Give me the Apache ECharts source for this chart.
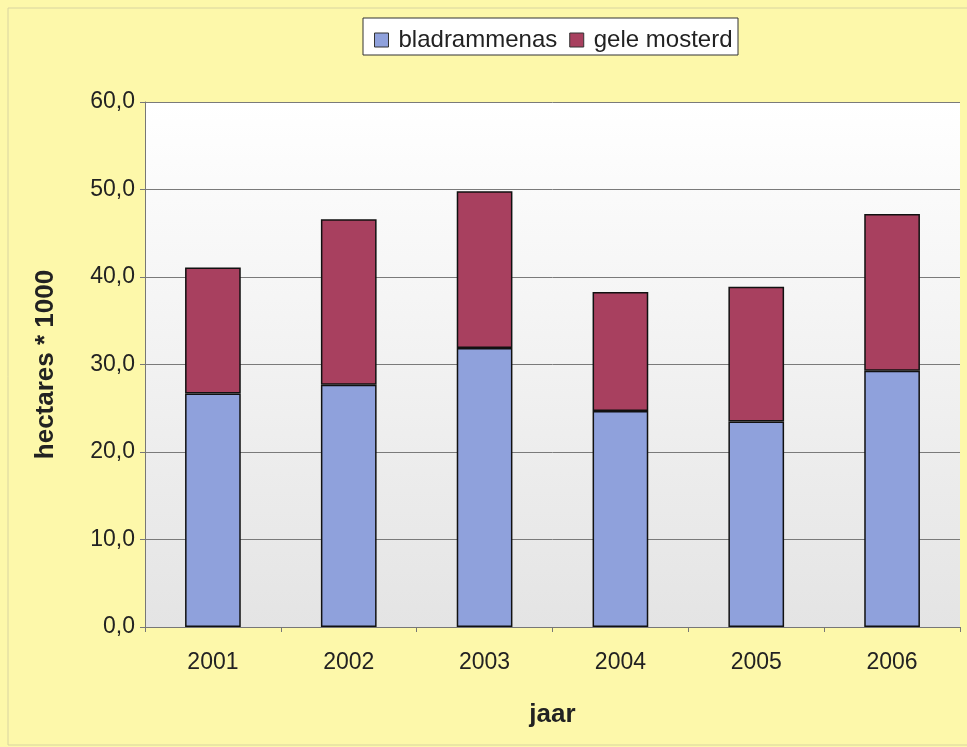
<!DOCTYPE html>
<html>
<head>
<meta charset="utf-8">
<script src="https://cdn.jsdelivr.net/npm/echarts@6/dist/echarts.min.js"></script>
<style>
  html, body { margin: 0; padding: 0; background: #FDF8AA; }
  #chart { width: 967px; height: 747px; }
</style>
</head>
<body>
<div id="chart"></div>
<script>
// Cover crop area (x 1000 ha) per year
const years = ['2001', '2002', '2003', '2004', '2005', '2006'];
const bladrammenas = [26.7, 27.7, 31.9, 24.7, 23.5, 29.3];
const geleMosterd = [14.4, 18.9, 17.9, 13.6, 15.4, 17.9];
const seriesNames = ['bladrammenas', 'gele mosterd'];

const chart = echarts.init(document.getElementById('chart'), null, { renderer: 'canvas' });

const fontFamily = '"Liberation Sans", Arial, sans-serif';
const fmt = v => v.toFixed(1).replace('.', ',');

chart.setOption({
  backgroundColor: '#FDF8AA',
  animation: false,
  textStyle: { fontFamily: fontFamily },
  graphic: [
    {
      type: 'rect',
      shape: { x: 8, y: 8, width: 968, height: 737 },
      style: { fill: 'none', stroke: '#d8d4a0', lineWidth: 1 },
      z: -1
    },
    {
      type: 'rect',
      shape: { x: 363, y: 18, width: 375, height: 37 },
      style: { fill: '#ffffff', stroke: '#333333', lineWidth: 1 },
      z: 0
    }
  ],
  legend: {
    top: 23,
    left: 369,
    itemWidth: 14,
    itemHeight: 14,
    itemGap: 12,
    textStyle: { fontSize: 24, color: '#222', fontFamily: fontFamily, padding: [0, 0, 0, 5] },
    icon: 'rect',
    itemStyle: { borderColor: '#333', borderWidth: 1 },
    data: seriesNames,
    z: 5
  },
  grid: {
    left: 145,
    right: 7,
    top: 102,
    bottom: 120,
    show: true,
    borderWidth: 0,
    backgroundColor: {
      type: 'linear', x: 0, y: 0, x2: 0, y2: 1,
      colorStops: [
        { offset: 0, color: '#ffffff' },
        { offset: 1, color: '#e4e4e4' }
      ]
    }
  },
  xAxis: {
    type: 'category',
    data: years,
    name: 'jaar',
    nameLocation: 'middle',
    nameGap: 75,
    nameTextStyle: { fontSize: 26, fontWeight: 'bold', color: '#222', fontFamily: fontFamily },
    axisLine: { lineStyle: { color: '#777', width: 1 } },
    axisTick: { show: true, length: 5, lineStyle: { color: '#777' } },
    axisLabel: { fontSize: 23, color: '#222', margin: 24, fontFamily: fontFamily },
    z: 3
  },
  yAxis: {
    type: 'value',
    min: 0,
    max: 60,
    interval: 10,
    name: 'hectares * 1000',
    nameLocation: 'middle',
    nameGap: 86,
    nameTextStyle: { fontSize: 26, fontWeight: 'bold', color: '#222', fontFamily: fontFamily },
    axisLine: { show: true, lineStyle: { color: '#777', width: 1 } },
    axisTick: { show: true, length: 5, lineStyle: { color: '#777' } },
    axisLabel: { fontSize: 23, color: '#222', margin: 10, formatter: fmt, fontFamily: fontFamily },
    splitLine: { show: true, lineStyle: { color: '#7a7a7a', width: 1 } }
  },
  series: [
    {
      name: seriesNames[0],
      type: 'bar',
      stack: 'total',
      data: bladrammenas,
      barWidth: '41%',
      itemStyle: { color: '#8FA1DC', borderColor: '#111', borderWidth: 1.5 }
    },
    {
      name: seriesNames[1],
      type: 'bar',
      stack: 'total',
      data: geleMosterd,
      barWidth: '41%',
      itemStyle: { color: '#A8405F', borderColor: '#111', borderWidth: 1.5 }
    }
  ]
});
</script>
</body>
</html>
